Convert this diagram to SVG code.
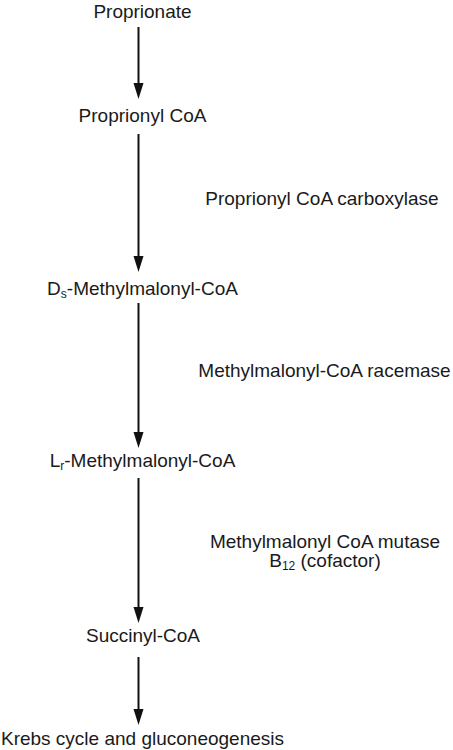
<svg xmlns="http://www.w3.org/2000/svg" width="453" height="750" viewBox="0 0 453 750">
<style>
text{font-family:"Liberation Sans",Arial,sans-serif;font-size:19px;fill:#1a1a1a;text-anchor:middle}
.c line{stroke:#111;stroke-width:2}
.c polygon{fill:#111}
</style>
<rect width="453" height="750" fill="#fff"/>
<g class="c" id="connectors">
<line x1="138.5" y1="27" x2="138.5" y2="88"/><polygon points="133.5,83 143.5,83 138.5,99"/>
<line x1="138.5" y1="134" x2="138.5" y2="260"/><polygon points="133.5,256 143.5,256 138.5,272"/>
<line x1="138.5" y1="303" x2="138.5" y2="437"/><polygon points="133.5,432 143.5,432 138.5,448"/>
<line x1="138.5" y1="478" x2="138.5" y2="612"/><polygon points="133.5,607 143.5,607 138.5,623"/>
<line x1="138.5" y1="657" x2="138.5" y2="714"/><polygon points="133.5,709 143.5,709 138.5,725"/>
</g>
<g id="n1"><text x="142.5" y="18">Proprionate</text></g>
<g id="n2"><text x="142.5" y="122">Proprionyl CoA</text></g>
<g id="n3"><text x="142.5" y="295">D<tspan font-size="12" dy="3">s</tspan><tspan dy="-3">-Methylmalonyl-CoA</tspan></text></g>
<g id="n4"><text x="142.5" y="467">L<tspan font-size="12" dy="3">r</tspan><tspan dy="-3">-Methylmalonyl-CoA</tspan></text></g>
<g id="n5"><text x="143" y="642">Succinyl-CoA</text></g>
<g id="n6"><text x="142.5" y="745">Krebs cycle and gluconeogenesis</text></g>
<g id="e1"><text x="322" y="205">Proprionyl CoA carboxylase</text></g>
<g id="e2"><text x="324.5" y="377">Methylmalonyl-CoA racemase</text></g>
<g id="e3"><text x="325" y="548">Methylmalonyl CoA mutase</text><text x="325" y="567">B<tspan font-size="12" dy="3">12</tspan><tspan dy="-3"> (cofactor)</tspan></text></g>
</svg>
